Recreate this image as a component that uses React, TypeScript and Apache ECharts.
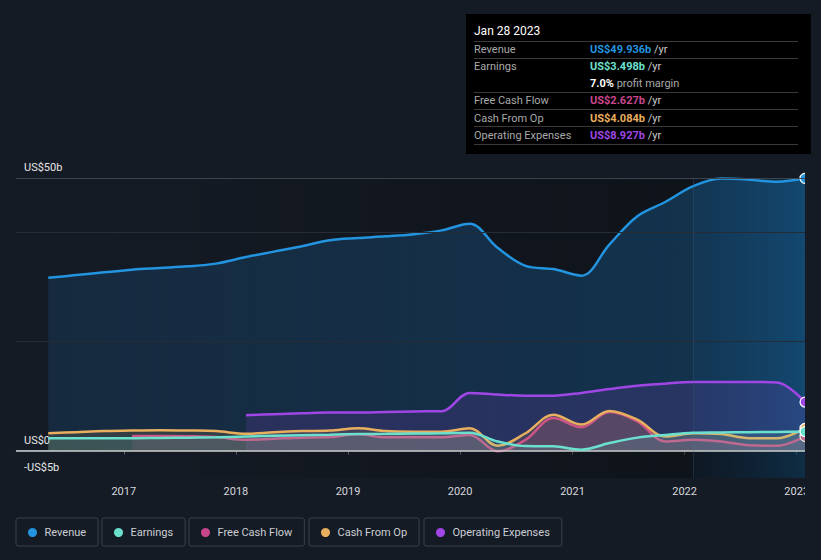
import React, { useEffect, useRef } from "react";
import * as echarts from "echarts";

const dates = [
  "2016-04-30", "2016-07-30", "2016-10-29", "2017-01-28", "2017-04-29", "2017-07-29", "2017-10-28",
  "2018-02-03", "2018-05-05", "2018-08-04", "2018-11-03", "2019-02-02", "2019-05-04", "2019-08-03",
  "2019-11-02", "2020-02-01", "2020-05-02", "2020-08-01", "2020-10-31", "2021-01-30", "2021-05-01",
  "2021-07-31", "2021-10-30", "2022-01-29", "2022-04-30", "2022-07-30", "2022-10-29", "2023-01-28",
];
const revenue = [
  31.7, 32.2, 32.7, 33.2, 33.5, 33.8, 34.3, 35.5, 36.5, 37.5, 38.6, 39.0, 39.3, 39.7,
  40.4, 41.6, 37.2, 33.9, 33.3, 32.1, 37.8, 43.0, 45.6, 48.5, 49.9, 49.7, 49.3, 49.936,
];
const earnings = [
  2.3, 2.3, 2.3, 2.3, 2.35, 2.4, 2.45, 2.6, 2.75, 2.85, 2.95, 3.06, 3.1, 3.15,
  3.2, 3.3, 1.7, 0.85, 0.8, 0.2, 1.4, 2.4, 2.9, 3.3, 3.35, 3.4, 3.45, 3.498,
];
const freeCashFlow = [
  null, null, null, 2.7, 2.7, 2.65, 2.5, 2.0, 2.2, 2.4, 2.5, 3.0, 2.45, 2.45,
  2.45, 2.9, -0.1, 2.0, 6.0, 4.3, 7.1, 5.4, 1.7, 2.0, 1.7, 1.0, 0.9, 2.627,
];
const cashFromOp = [
  3.2, 3.4, 3.6, 3.7, 3.75, 3.7, 3.6, 3.1, 3.4, 3.6, 3.7, 4.1, 3.6, 3.5,
  3.5, 4.1, 0.9, 3.2, 6.6, 4.8, 7.3, 5.7, 2.6, 3.2, 3.05, 2.3, 2.3, 4.084,
];
const operatingExpenses = [
  null, null, null, null, null, null, null, 6.5, 6.7, 6.85, 7.0, 7.0, 7.1, 7.2,
  7.25, 10.6, 10.3, 10.1, 10.1, 10.6, 11.3, 11.9, 12.3, 12.6, 12.6, 12.6, 12.5, 8.927,
];

const seriesNames = ["Revenue", "Earnings", "Free Cash Flow", "Cash From Op", "Operating Expenses"];
const seriesValues = [revenue, earnings, freeCashFlow, cashFromOp, operatingExpenses];
const seriesColors = ["#2394df", "#6ce0cf", "#c8468c", "#e8af5f", "#a046e6"];
const yLabels: Record<string, string> = { "50": "US$50b", "0": "US$0", "-5": "-US$5b" };
const gridValues = [50, 40, 20];
const lastYearStart = "2022-01-29";
const tooltipTitle = "Jan 28 2023";

const BG = "#151b25";
const FONT = "Roboto, 'Noto Sans', sans-serif";

function rgba(hex: string, a: number) {
  const n = parseInt(hex.slice(1), 16);
  return `rgba(${(n >> 16) & 255},${(n >> 8) & 255},${n & 255},${a})`;
}

export default function App() {
  const ref = useRef<HTMLDivElement>(null);
  useEffect(() => {
    if (!ref.current) return;
    const chart = echarts.init(ref.current, null, { renderer: "svg" });
    const last = dates.length - 1;

    const series: any[] = seriesNames.map((name, i) => {
      const color = seriesColors[i];
      const s: any = {
        name,
        type: "line",
        smooth: 0.35,
        z: [2, 6, 4, 5, 3][i],
        data: dates.map((d, k) => [d, seriesValues[i][k]]),
        showSymbol: true,
        showAllSymbol: true,
        symbol: "circle",
        symbolSize: (_v: any, p: any) => (p.dataIndex === last ? 10 : 0),
        itemStyle: { color, borderColor: "#ffffff", borderWidth: 1.2 },
        lineStyle: { color, width: 2.5 },
        areaStyle:
          i === 0
            ? {
                color: new echarts.graphic.LinearGradient(0, 0, 1, 0, [
                  { offset: 0, color: "rgba(30,125,205,0.22)" },
                  { offset: 1, color: "rgba(30,140,220,0.4)" },
                ]),
              }
            : { color: rgba(color, i === 4 ? 0.22 : 0.2) },
        emphasis: { disabled: true },
        silent: true,
      };
      if (i === 0) {
        s.markArea = {
          silent: true,
          data: [
            [
              {
                xAxis: dates[0],
                itemStyle: {
                  color: new echarts.graphic.LinearGradient(0, 0, 1, 0, [
                    { offset: 0, color: "rgba(0,0,0,0)" },
                    { offset: 1, color: "rgba(0,0,0,0.3)" },
                  ]),
                },
              },
              { xAxis: lastYearStart },
            ],
            [
              {
                xAxis: lastYearStart,
                itemStyle: {
                  color: new echarts.graphic.LinearGradient(0, 0, 1, 0, [
                    { offset: 0, color: "rgba(5,20,35,0.4)" },
                    { offset: 1, color: "rgba(10,60,95,0.55)" },
                  ]),
                },
              },
              { xAxis: dates[last] },
            ],
          ],
        };
        s.markLine = {
          silent: true,
          symbol: "none",
          label: { show: false },
          data: [
            ...gridValues.map((v) => ({
              yAxis: v,
              lineStyle: { color: v === 50 ? "#3e434c" : "#262c36", width: 1, type: "solid" },
            })),
            { yAxis: 0, lineStyle: { color: "#cfd0d3", width: 1.5, type: "solid" } },
            { xAxis: lastYearStart, lineStyle: { color: "rgba(60,90,110,0.35)", width: 1, type: "solid" } },
          ],
        };
      }
      return s;
    });

    const legendLefts = [16, 102, 189, 309, 424];
    const legends = seriesNames.map((name, i) => ({
      data: [name],
      left: legendLefts[i],
      top: 518,
      padding: [9, 12, 8, 12],
      borderColor: "#3b404a",
      borderWidth: 1,
      borderRadius: 2,
      icon: "circle",
      itemWidth: 9,
      itemHeight: 9,
      selectedMode: false,
      itemStyle: { borderWidth: 0 },
      textStyle: { color: "#cbced3", fontSize: 11, fontFamily: FONT, padding: [0, 0, 0, 2.5] },
    }));

    const lastRev = revenue[last];
    const lastEarn = earnings[last];
    const rows = [
      { label: "Revenue", value: lastRev, color: seriesColors[0], y: 49 },
      { label: "Earnings", value: lastEarn, color: seriesColors[1], y: 66 },
      { label: "Free Cash Flow", value: freeCashFlow[last] as number, color: seriesColors[2], y: 100 },
      { label: "Cash From Op", value: cashFromOp[last], color: seriesColors[3], y: 118 },
      { label: "Operating Expenses", value: operatingExpenses[last] as number, color: seriesColors[4], y: 135 },
    ];
    const sepYs = [41.5, 58.5, 92.5, 109.5, 126.5, 144.5];
    const graphic: any[] = [
      { type: "rect", shape: { x: 805, y: 160, width: 16, height: 340 }, style: { fill: BG }, z: 100 },
      { type: "rect", shape: { x: 466, y: 14, width: 345, height: 140 }, style: { fill: "#000000" }, z: 100 },
      {
        type: "text", x: 474, y: 31, z: 101,
        style: { text: tooltipTitle, fill: "#ffffff", fontSize: 12, fontFamily: FONT, verticalAlign: "middle" },
      },
      ...sepYs.map((y) => ({
        type: "line", z: 101,
        shape: { x1: 474, y1: y, x2: 798, y2: y },
        style: { stroke: "#3a3a3a", lineWidth: 1 },
      })),
      ...rows.map((r) => ({
        type: "text", x: 474, y: r.y, z: 101,
        style: { text: r.label, fill: "#a9a9a9", fontSize: 11, fontFamily: FONT, verticalAlign: "middle" },
      })),
      ...rows.map((r) => ({
        type: "text", x: 590, y: r.y, z: 101,
        style: {
          text: `{v|US$${r.value.toFixed(3)}b} {u|/yr}`,
          verticalAlign: "middle",
          fontSize: 11,
          fontFamily: FONT,
          rich: {
            v: { fill: r.color, fontWeight: "bold", fontSize: 11, fontFamily: FONT },
            u: { fill: "#cccccc", fontSize: 11, fontFamily: FONT },
          },
        },
      })),
      {
        type: "text", x: 590, y: 83, z: 101,
        style: {
          text: `{b|${((lastEarn / lastRev) * 100).toFixed(1)}%} {g|profit margin}`,
          verticalAlign: "middle",
          fontSize: 11,
          fontFamily: FONT,
          rich: {
            b: { fill: "#ffffff", fontWeight: "bold", fontSize: 11, fontFamily: FONT },
            g: { fill: "#a9a9a9", fontSize: 11, fontFamily: FONT },
          },
        },
      },
    ];

    chart.setOption({
      animation: false,
      backgroundColor: BG,
      textStyle: { fontFamily: FONT },
      grid: { left: 16, right: 16, top: 178, bottom: 82, containLabel: false },
      xAxis: {
        type: "time",
        min: "2016-01-16",
        max: dates[last],
        splitLine: { show: false },
        axisLine: { show: true, lineStyle: { color: "#3e434c", width: 1 } },
        axisTick: { show: true, length: 4, lineStyle: { color: "#5a5f68" } },
        axisLabel: {
          color: "#d6d8db",
          fontSize: 11,
          margin: 8,
          formatter: (v: number) => String(new Date(v).getFullYear()),
        },
      },
      yAxis: {
        type: "value",
        min: -5,
        max: 50,
        interval: 5,
        splitLine: { show: false },
        axisLine: { show: false },
        axisTick: { show: false },
        axisLabel: {
          inside: true,
          margin: 8,
          color: "#e6e6e6",
          fontSize: 11,
          verticalAlign: "bottom",
          padding: [0, 0, 5, 0],
          formatter: (v: number) => yLabels[String(v)] || "",
        },
      },
      legend: legends,
      series,
      graphic,
    });
    return () => chart.dispose();
  }, []);
  return (
    <div
      ref={ref}
      style={{ position: "fixed", left: 0, top: 0, width: 821, height: 560, background: BG }}
    />
  );
}
